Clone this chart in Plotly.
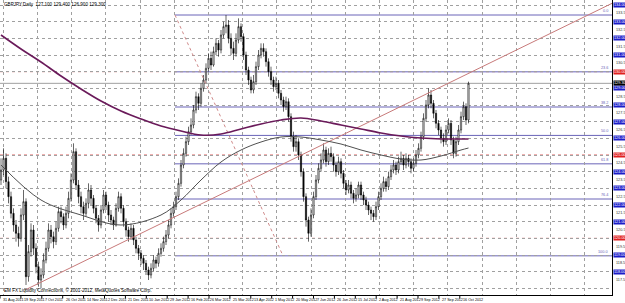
import plotly.graph_objects as go

# ---------------- data ----------------
opens = [123.5,124.1,124.8,123.4,122.5,121.5,120.8,120.3,120.0,121.4,
         122.2,117.7,119.2,120.5,119.4,118.3,117.5,117.8,118.7,119.4,
         120.5,120.1,119.8,120.6,121.6,121.3,120.8,121.5,122.4,123.5,
         125.2,123.2,122.5,121.9,121.5,122.1,122.9,122.4,121.8,121.2,
         120.8,121.7,122.6,122.0,121.4,121.1,120.8,121.8,122.5,121.8,
         121.0,120.5,120.1,120.6,119.9,119.4,119.1,118.8,118.5,118.1,
         117.8,118.2,118.7,118.5,119.1,119.4,119.8,120.2,120.8,121.5,
         121.9,122.5,123.3,124.4,125.1,125.8,126.4,126.8,127.7,128.5,
         128.1,129.0,129.5,130.2,130.8,130.4,131.2,131.7,131.3,132.2,
         132.7,132.8,132.0,131.4,131.1,131.9,132.7,132.1,131.0,130.1,
         129.5,128.9,129.4,130.3,131.0,131.4,131.2,130.6,130.0,129.5,
         129.1,129.3,128.7,128.3,127.9,128.2,127.3,126.1,125.5,125.8,
         125.0,124.0,122.5,121.1,120.3,121.4,122.5,123.5,124.2,124.7,
         125.3,124.6,125.1,124.9,124.4,124.0,124.6,123.9,123.3,122.9,
         123.2,122.7,122.4,122.6,123.2,122.6,122.3,122.0,121.7,121.5,
         121.3,121.9,122.5,123.0,123.4,123.1,123.7,124.1,124.4,124.1,
         124.6,124.8,124.4,124.8,124.6,124.2,124.5,125.0,125.4,126.1,
         127.2,128.0,128.6,128.1,127.5,126.9,126.5,126.0,125.8,126.5,
         126.9,125.9,125.1,125.8,126.5,127.3,127.9,127.1]
highs = [124.8,125.4,125.1,123.7,122.8,121.8,121.1,120.7,121.8,122.9,
         122.4,119.6,120.9,120.8,119.7,118.6,118.2,119.1,119.8,120.9,
         120.8,120.4,121.0,121.9,121.9,121.5,121.9,122.8,123.9,125.7,
         125.4,123.5,122.8,122.2,122.4,123.3,123.2,122.6,122.0,121.4,
         122.0,122.9,122.8,122.2,121.7,121.3,122.1,122.8,122.7,122.0,
         121.2,120.7,120.9,120.8,120.1,119.6,119.3,119.0,118.7,118.3,
         118.5,119.0,118.9,119.4,119.7,120.1,120.5,121.1,121.8,122.2,
         122.8,123.6,124.7,125.4,126.1,126.7,127.2,128.0,128.8,128.7,
         129.3,129.8,130.5,131.1,131.2,131.5,132.0,131.9,132.5,133.0,
         133.4,133.1,132.3,131.8,132.3,133.2,132.9,132.3,131.2,130.3,
         129.7,129.8,130.6,131.3,131.7,131.7,131.4,130.8,130.3,129.7,
         129.7,129.5,128.9,128.5,128.5,128.4,127.5,126.4,126.2,126.0,
         125.2,124.2,122.7,121.3,121.8,122.8,123.8,124.5,125.1,125.7,
         125.5,125.4,125.5,125.1,124.6,124.9,124.8,124.1,123.5,123.5,
         123.4,122.9,123.0,123.4,123.4,122.8,122.5,122.2,121.9,121.7,
         122.2,122.8,123.3,123.7,123.6,124.0,124.4,124.7,124.6,124.9,
         125.2,125.0,125.1,125.0,124.8,124.8,125.3,125.7,126.4,127.5,
         128.3,129.0,128.9,128.3,127.7,127.1,126.7,126.3,126.8,127.2,
         127.1,126.1,126.1,126.8,127.6,128.2,128.1,129.4]
lows = [123.2,123.8,123.0,122.1,121.2,120.4,119.8,119.5,119.8,121.1,
        117.2,117.4,118.9,119.0,117.9,117.1,117.0,117.6,118.5,119.2,
        119.7,119.4,119.6,120.4,120.9,120.5,120.6,121.2,122.2,123.3,
        122.9,122.1,121.5,121.1,121.3,121.8,122.0,121.5,120.9,120.4,
        120.6,121.5,121.7,121.0,120.8,120.5,120.7,121.6,121.5,120.7,
        120.1,119.8,119.9,119.6,119.1,118.7,118.4,118.1,117.8,117.5,
        117.6,118.0,118.2,118.3,118.9,119.2,119.6,120.0,120.6,121.3,
        121.7,122.3,123.1,124.2,124.9,125.6,126.2,126.6,127.5,127.7,
        127.9,128.8,129.3,130.0,130.1,130.3,131.0,130.9,131.1,132.0,
        132.3,131.7,131.0,130.7,130.9,131.7,131.8,130.7,129.8,129.2,
        128.7,128.7,129.2,130.1,130.8,130.9,130.3,129.7,129.2,128.8,
        128.9,128.4,128.0,127.6,127.7,127.0,125.8,125.2,125.2,124.7,
        123.7,122.2,120.7,119.8,120.1,121.2,122.3,123.3,124.0,124.5,
        124.3,124.4,124.6,124.0,123.7,123.8,123.6,123.0,122.6,122.7,
        122.4,122.1,122.2,122.4,122.3,122.0,121.7,121.4,121.1,121.0,
        121.1,121.7,122.3,122.8,122.8,122.9,123.5,123.9,123.8,123.9,
        124.4,124.1,124.2,124.3,123.9,124.0,124.3,124.8,125.2,125.9,
        127.0,127.8,127.8,127.2,126.6,126.2,125.7,125.5,125.6,126.3,
        125.6,124.8,124.9,125.6,126.3,127.1,126.8,126.9]
closes = [124.1,124.8,123.4,122.5,121.5,120.8,120.3,120.0,121.4,122.2,
          117.7,119.2,120.5,119.4,118.3,117.5,117.8,118.7,119.4,120.5,
          120.1,119.8,120.6,121.6,121.3,120.8,121.5,122.4,123.5,125.2,
          123.2,122.5,121.9,121.5,122.1,122.9,122.4,121.8,121.2,120.8,
          121.7,122.6,122.0,121.4,121.1,120.8,121.8,122.5,121.8,121.0,
          120.5,120.1,120.6,119.9,119.4,119.1,118.8,118.5,118.1,117.8,
          118.2,118.7,118.5,119.1,119.4,119.8,120.2,120.8,121.5,121.9,
          122.5,123.3,124.4,125.1,125.8,126.4,126.8,127.7,128.5,128.1,
          129.0,129.5,130.2,130.8,130.4,131.2,131.7,131.3,132.2,132.7,
          132.8,132.0,131.4,131.1,131.9,132.7,132.1,131.0,130.1,129.5,
          128.9,129.4,130.3,131.0,131.4,131.2,130.6,130.0,129.5,129.1,
          129.3,128.7,128.3,127.9,128.2,127.3,126.1,125.5,125.8,125.0,
          124.0,122.5,121.1,120.3,121.4,122.5,123.5,124.2,124.7,125.3,
          124.6,125.1,124.9,124.4,124.0,124.6,123.9,123.3,122.9,123.2,
          122.7,122.4,122.6,123.2,122.6,122.3,122.0,121.7,121.5,121.3,
          121.9,122.5,123.0,123.4,123.1,123.7,124.1,124.4,124.1,124.6,
          124.8,124.4,124.8,124.6,124.2,124.5,125.0,125.4,126.1,127.2,
          128.0,128.6,128.1,127.5,126.9,126.5,126.0,125.8,126.5,126.9,
          125.9,125.1,125.8,126.5,127.3,127.9,127.1,129.3]

# moving averages (bar index, price)
ma_slow_idx = [0,8,16,24,32,40,48,56,64,72,80,88,96,104,112,120,128,136,144,152,160,168,176,184,187]
ma_slow = [132.2,131.36,130.58,129.74,128.96,128.24,127.64,127.16,126.74,126.44,126.2,126.26,126.56,
           126.86,127.1,127.22,127.04,126.8,126.56,126.32,126.14,126.02,125.96,125.96,125.96]
ma_fast_idx = [0,16,32,48,64,72,80,88,96,104,112,120,128,136,144,152,160,168,176,184,187]
ma_fast = [124.4,122.3,121.4,120.8,121.4,122.3,123.5,124.58,125.3,125.78,126.08,126.08,125.9,
           125.66,125.3,125.0,124.76,124.7,124.94,125.3,125.42]

# trend line anchors (bar index, price)
trend_x = [9.6, 244.4]
trend_y = [116.9, 134.1]

# fibonacci anchors and levels
fib_x = [69.6, 112.8]
fib_y = [133.4, 118.95]
fib_levels = [0.0, 23.6, 38.2, 50.0, 61.8, 76.4, 100.0]
fib_labels = ["0.0", "23.6", "38.2", "50.0", "61.8", "76.4", "100.0"]

# horizontal price lines
blue_lines = [118, 119, 121, 122, 123, 124, 126, 127, 128, 129, 131, 132, 133, 134]
red_lines = [120, 125, 130]
axis_text = [117.5, 118.5, 119.5, 120.5, 121.5, 122.5, 123.5, 124.5, 125.5, 126.5,
             127.5, 128.5, 130.5, 131.5, 132.5, 133.5]

date_labels = ["31 Aug 2011", "19 Sep 2011", "7 Oct 2011", "26 Oct 2011", "14 Nov 2011",
               "2 Dec 2011", "21 Dec 2011", "10 Jan 2012", "29 Jan 2012", "16 Feb 2012",
               "6 Mar 2012", "25 Mar 2012", "13 Apr 2012", "1 May 2012", "20 May 2012",
               "7 Jun 2012", "26 Jun 2012", "15 Jul 2012", "2 Aug 2012", "21 Aug 2012",
               "9 Sep 2012", "27 Sep 2012", "16 Oct 2012"]

header = "GBPJPY,Daily  127.100 129.400 126.900 129.300"
copyright_txt = "EM FX Liquidity Connections, \u00a9 2001-2012, MetaQuotes Software Corp."

# ---------------- figure ----------------
idx = list(range(len(closes)))
FONT = "Liberation Sans Narrow, Liberation Sans, sans-serif"
fig = go.Figure()

shapes = []
for p in red_lines:
    shapes.append(dict(type="line", xref="paper", x0=0, x1=1, yref="y", y0=p, y1=p,
                       line=dict(color="#e06060", width=1, dash="dot"), layer="below"))
hi, lo = fib_y
fib_prices = [hi - (hi - lo) * l / 100.0 for l in fib_levels]
for fp in fib_prices:
    shapes.append(dict(type="line", xref="x", x0=fib_x[0], x1=244.4, yref="y", y0=fp, y1=fp,
                       line=dict(color="#6a64b8", width=1), layer="below"))
shapes.append(dict(type="line", xref="paper", x0=0, x1=1, yref="y", y0=closes[-1], y1=closes[-1],
                   line=dict(color="#a0a0a0", width=1), layer="below"))
for k in range(len(date_labels)):
    shapes.append(dict(type="line", xref="x", x0=k * 8.36 - 0.4, x1=k * 8.36 - 0.4,
                       yref="paper", y0=0, y1=-0.012, line=dict(color="#000", width=1)))

fig.add_trace(go.Scatter(x=fib_x, y=fib_y, mode="lines",
                         line=dict(color="#d08a8a", width=1, dash="dot"), hoverinfo="skip"))
fig.add_trace(go.Scatter(x=trend_x, y=trend_y, mode="lines",
                         line=dict(color="#c87a7a", width=1), hoverinfo="skip"))
fig.add_trace(go.Scatter(x=ma_fast_idx, y=ma_fast, mode="lines", line_shape="spline",
                         line=dict(color="#505050", width=1)))
fig.add_trace(go.Scatter(x=ma_slow_idx, y=ma_slow, mode="lines", line_shape="spline",
                         line=dict(color="#6a1a5a", width=1.6)))
fig.add_trace(go.Candlestick(
    x=idx, open=opens, high=highs, low=lows, close=closes,
    increasing=dict(line=dict(color="#000000", width=0.6), fillcolor="#ffffff"),
    decreasing=dict(line=dict(color="#000000", width=0.6), fillcolor="#000000"),
    whiskerwidth=0))

ann = []
ann.append(dict(text=header, xref="paper", yref="paper", x=0.003, y=1.0, xanchor="left",
                yanchor="top", showarrow=False, font=dict(size=4.6, color="#000", family=FONT)))
ann.append(dict(text=copyright_txt, xref="paper", yref="paper", x=0.003, y=0.0, xanchor="left",
                yanchor="bottom", showarrow=False, font=dict(size=4.6, color="#000", family=FONT)))
for k, lab in enumerate(date_labels):
    ann.append(dict(text=lab, xref="x", yref="paper", x=k * 8.36, y=0, yshift=-1,
                    xanchor="left", yanchor="top", showarrow=False,
                    font=dict(size=3.7, color="#000", family=FONT)))
for p in axis_text:
    ann.append(dict(text="%.3f" % p, xref="paper", yref="y", x=1.0, y=p, xshift=2,
                    xanchor="left", yanchor="middle", showarrow=False,
                    font=dict(size=3.8, color="#333", family=FONT)))
for p in blue_lines:
    ann.append(dict(text="%.3f" % p, xref="paper", yref="y", x=1.0, y=p, xshift=1,
                    xanchor="left", yanchor="middle", showarrow=False, bgcolor="#1c1cc8",
                    borderpad=0, font=dict(size=3.8, color="#ffffff", family=FONT)))
for p in red_lines:
    ann.append(dict(text="%.3f" % p, xref="paper", yref="y", x=1.0, y=p, xshift=1,
                    xanchor="left", yanchor="middle", showarrow=False, bgcolor="#e02020",
                    borderpad=0, font=dict(size=3.8, color="#ffffff", family=FONT)))
ann.append(dict(text="%.3f" % closes[-1], xref="paper", yref="y", x=1.0, y=closes[-1], xshift=1,
                xanchor="left", yanchor="middle", showarrow=False, bgcolor="#000000",
                borderpad=0, font=dict(size=3.8, color="#ffffff", family=FONT)))
for fp, fl in zip(fib_prices, fib_labels):
    ann.append(dict(text=fl, xref="paper", yref="y", x=0.997, y=fp, xanchor="right",
                    yanchor="bottom", showarrow=False,
                    font=dict(size=3.8, color="#6a64b8", family=FONT)))

grid_x = [0.92 + 13.68 * k for k in range(18)]

fig.update_layout(
    width=625, height=303, margin=dict(l=0, r=13, t=0, b=8),
    paper_bgcolor="white", plot_bgcolor="white", showlegend=False,
    shapes=shapes, annotations=ann,
    xaxis=dict(range=[-0.4, 244.4], rangeslider=dict(visible=False), tickvals=grid_x,
               showticklabels=False, showgrid=True, gridcolor="#a0a0a0", griddash="dot",
               gridwidth=1, zeroline=False, showline=True, linecolor="#000", linewidth=1,
               fixedrange=True),
    yaxis=dict(range=[116.6, 134.3], side="right", tickvals=list(range(117, 135)),
               showticklabels=False, showgrid=True, gridcolor="#a0a0a0", griddash="dot",
               gridwidth=1, zeroline=False, showline=True, linecolor="#000", linewidth=1,
               fixedrange=True),
)
fig.write_html("out.html")
